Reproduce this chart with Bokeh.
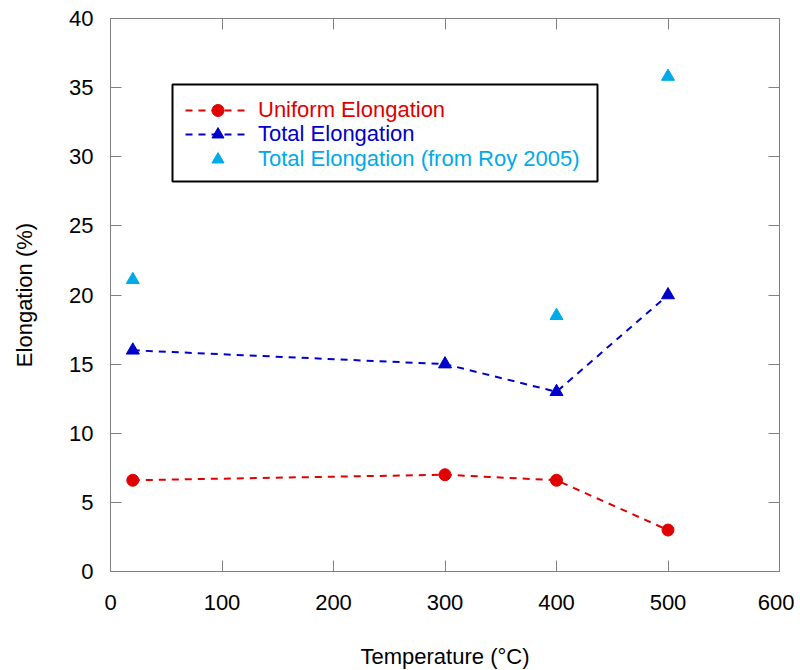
from bokeh.plotting import figure
from bokeh.models import (Legend, LegendItem, LinearAxis, BoxAnnotation, Range1d, FixedTicker,
                          CustomLabelingPolicy)
from bokeh.embed import file_html
from bokeh.resources import INLINE

temps_uniform = [20, 300, 400, 500]
uniform_elong = [6.6, 7.0, 6.6, 3.0]
temps_total = [20, 300, 400, 500]
total_elong = [16.0, 15.0, 13.0, 20.0]
temps_roy = [20, 400, 500]
roy_elong = [21.1, 18.5, 35.8]

x_ticks = [0, 100, 200, 300, 400, 500, 600]
y_ticks = [0, 5, 10, 15, 20, 25, 30, 35, 40]

RED = "#e00000"
BLUE = "#0000cc"
CYAN = "#00aae8"
FONT = "Liberation Sans"
GRAY = "#808080"

p = figure(frame_width=669, frame_height=553, output_backend="svg", toolbar_location=None,
           x_range=Range1d(0, 600), y_range=Range1d(0, 40),
           min_border_left=110, min_border_top=18, min_border_bottom=91, min_border_right=13,
           x_axis_label="Temperature (°C)", y_axis_label="Elongation (%)")
p.outline_line_color = GRAY
p.grid.visible = False

for ax in (p.xaxis[0], p.yaxis[0]):
    ax.axis_line_color = GRAY
    ax.major_tick_line_color = GRAY
    ax.major_tick_in = 11
    ax.major_tick_out = 0
    ax.minor_tick_line_color = None
    ax.major_label_text_font = FONT
    ax.major_label_text_font_size = "22px"
    ax.major_label_text_color = "black"
    ax.axis_label_text_font = FONT
    ax.axis_label_text_font_size = "22px"
    ax.axis_label_text_font_style = "normal"
    ax.axis_label_text_color = "black"
p.xaxis[0].ticker = FixedTicker(ticks=x_ticks)
p.yaxis[0].ticker = FixedTicker(ticks=y_ticks)
p.xaxis[0].major_label_standoff = 23
p.xaxis[0].axis_label_standoff = 31
p.yaxis[0].major_label_standoff = 17
p.yaxis[0].axis_label_standoff = 29

hide_all = CustomLabelingPolicy(code="""
for (let i = 0; i < indices.size; i++) { indices.unset(i) }
return indices
""")
top = LinearAxis(ticker=FixedTicker(ticks=x_ticks), major_label_policy=hide_all,
                 major_label_standoff=0, axis_line_color=GRAY, major_tick_line_color=GRAY,
                 major_tick_in=11, major_tick_out=0, minor_tick_line_color=None)
right = LinearAxis(ticker=FixedTicker(ticks=y_ticks), major_label_policy=hide_all,
                   major_label_standoff=0, axis_line_color=GRAY, major_tick_line_color=GRAY,
                   major_tick_in=11, major_tick_out=0, minor_tick_line_color=None)
p.add_layout(top, "above")
p.add_layout(right, "right")

l1 = p.line(temps_uniform, uniform_elong, line_color=RED, line_width=2, line_dash="7 6")
s1 = p.scatter(temps_uniform, uniform_elong, marker="circle", size=12, fill_color=RED, line_color=RED)
l2 = p.line(temps_total, total_elong, line_color=BLUE, line_width=2, line_dash="7 6")
s2 = p.scatter(temps_total, total_elong, marker="triangle", size=13, fill_color=BLUE, line_color=BLUE)
s3 = p.scatter(temps_roy, roy_elong, marker="triangle", size=13, fill_color=CYAN, line_color=CYAN)

box = BoxAnnotation(left=62, right=487, top=487, bottom=390,
                    left_units="screen", right_units="screen", top_units="screen", bottom_units="screen",
                    fill_alpha=0, line_color="black", line_alpha=1, line_width=2, level="overlay")
p.add_layout(box)

entries = [("Uniform Elongation", [l1, s1], RED, 446),
           ("Total Elongation", [l2, s2], BLUE, 422),
           ("Total Elongation (from Roy 2005)", [s3], CYAN, 397)]
for label, rends, color, yy in entries:
    lg = Legend(items=[LegendItem(label=label, renderers=rends)], location=(75, yy),
                border_line_alpha=0, background_fill_alpha=0, margin=0, padding=0, spacing=0,
                glyph_width=65, glyph_height=30, label_standoff=8, label_height=30,
                label_text_font=FONT, label_text_font_size="22px", label_text_color=color)
    p.add_layout(lg)

open("out.html", "w").write(file_html(p, INLINE))
